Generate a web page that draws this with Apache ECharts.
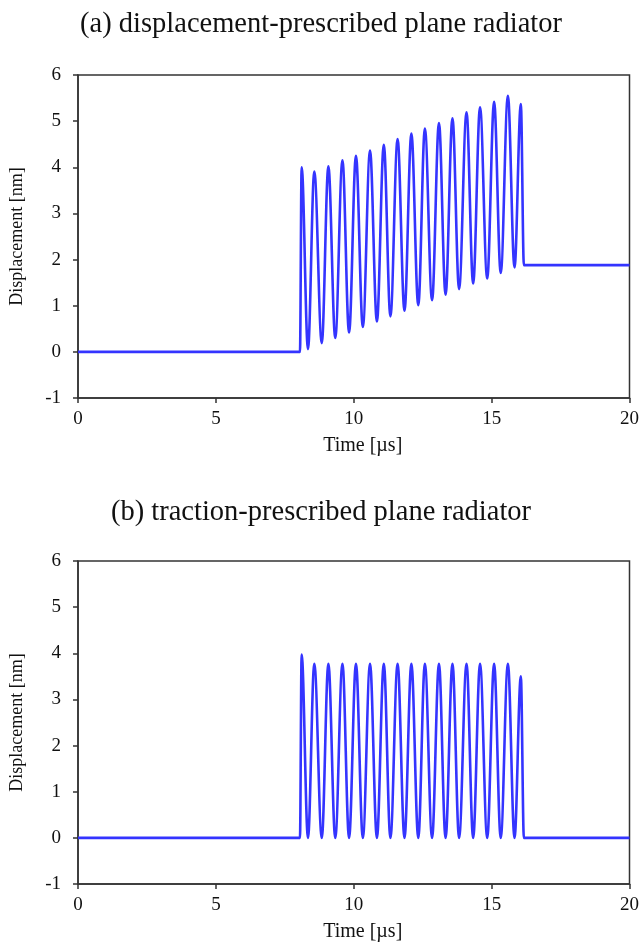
<!DOCTYPE html>
<html>
<head>
<meta charset="utf-8">
<script src="https://cdn.jsdelivr.net/npm/echarts@6/dist/echarts.min.js"></script>
<style>
  html, body { margin: 0; padding: 0; background: #fff; }
  #chart { width: 642px; height: 943px; }
</style>
</head>
<body>
<div id="chart"></div>
<script>
// Time samples [µs] at the turning points of the response (shared by both panels)
const time = [0, 8.05, 8.11, 8.34, 8.57, 8.84, 9.08, 9.33, 9.59, 9.83, 10.08, 10.33,
  10.59, 10.84, 11.09, 11.33, 11.59, 11.84, 12.09, 12.34, 12.58, 12.84, 13.09, 13.33,
  13.58, 13.82, 14.09, 14.33, 14.58, 14.84, 15.09, 15.33, 15.59, 15.83, 16.06, 16.17, 20];

// (a) displacement-prescribed plane radiator [nm]
const dispA = [0, 0, 4.00, 0.06, 3.91, 0.19, 4.02, 0.30, 4.15, 0.42, 4.25, 0.54,
  4.36, 0.66, 4.49, 0.77, 4.61, 0.89, 4.73, 1.01, 4.84, 1.12, 4.96, 1.24,
  5.06, 1.36, 5.19, 1.48, 5.30, 1.59, 5.42, 1.71, 5.55, 1.83, 5.37, 1.88, 1.88];

// (b) traction-prescribed plane radiator [nm]
const dispB = [0, 0, 3.97, 0.00, 3.77, 0.00, 3.77, 0.00, 3.77, 0.00, 3.77, 0.00,
  3.77, 0.00, 3.77, 0.00, 3.77, 0.00, 3.77, 0.00, 3.77, 0.00, 3.77, 0.00,
  3.77, 0.00, 3.77, 0.00, 3.77, 0.00, 3.77, 0.00, 3.77, 0.00, 3.50, 0.00, 0.00];

const titles = ['(a) displacement-prescribed plane radiator', '(b) traction-prescribed plane radiator'];
const xName = 'Time [µs]';
const yName = 'Displacement [nm]';

const FONT = '"Liberation Serif", "Times New Roman", serif';
const AXIS_COLOR = '#333333';
const TEXT_COLOR = '#111111';
const LINE_COLOR = '#3434ff';

const gridTops = [75, 561];
const gridHeight = 323;

function xAxisFor(i) {
  return {
    gridIndex: i, type: 'value', min: 0, max: 20, interval: 5,
    name: xName, nameLocation: 'middle', nameGap: 38,
    nameTextStyle: { fontFamily: FONT, fontSize: 20, color: TEXT_COLOR, padding: [0, 0, 0, 18] },
    axisLine: { show: true, onZero: false, lineStyle: { color: AXIS_COLOR, width: 1.5 } },
    axisTick: { show: true, inside: false, length: 5, lineStyle: { color: AXIS_COLOR, width: 1.5 } },
    axisLabel: { fontFamily: FONT, fontSize: 19, color: TEXT_COLOR, margin: 12 },
    splitLine: { show: false }
  };
}

function yAxisFor(i) {
  return {
    gridIndex: i, type: 'value', min: -1, max: 6, interval: 1,
    name: yName, nameLocation: 'middle', nameGap: 52, nameRotate: 90,
    nameTextStyle: { fontFamily: FONT, fontSize: 18, color: TEXT_COLOR },
    axisLine: { show: true, lineStyle: { color: AXIS_COLOR, width: 1.5 } },
    axisTick: { show: true, inside: false, length: 5, lineStyle: { color: AXIS_COLOR, width: 1.5 } },
    axisLabel: { fontFamily: FONT, fontSize: 19, color: TEXT_COLOR, margin: 17 },
    splitLine: { show: false }
  };
}

function seriesFor(i, values) {
  return {
    type: 'line', xAxisIndex: i, yAxisIndex: i,
    data: time.map((t, k) => [t, values[k]]),
    showSymbol: false, symbol: 'none',
    smooth: 0.36, smoothMonotone: 'x',
    lineStyle: { color: LINE_COLOR, width: 2.6 },
    animation: false
  };
}

const titleStyle = { fontFamily: FONT, fontSize: 28.5, fontWeight: 'normal', color: TEXT_COLOR };

const chart = echarts.init(document.getElementById('chart'), null, { renderer: 'canvas' });
chart.setOption({
  backgroundColor: '#fff',
  animation: false,
  title: [
    { text: titles[0], left: 'center', top: 5, textStyle: titleStyle },
    { text: titles[1], left: 'center', top: 493, textStyle: titleStyle }
  ],
  grid: gridTops.map(top => ({
    left: 78, top: top, width: 553, height: gridHeight,
    show: true, borderColor: AXIS_COLOR, borderWidth: 1.5, backgroundColor: 'transparent'
  })),
  xAxis: [xAxisFor(0), xAxisFor(1)],
  yAxis: [yAxisFor(0), yAxisFor(1)],
  series: [seriesFor(0, dispA), seriesFor(1, dispB)]
});
</script>
</body>
</html>
